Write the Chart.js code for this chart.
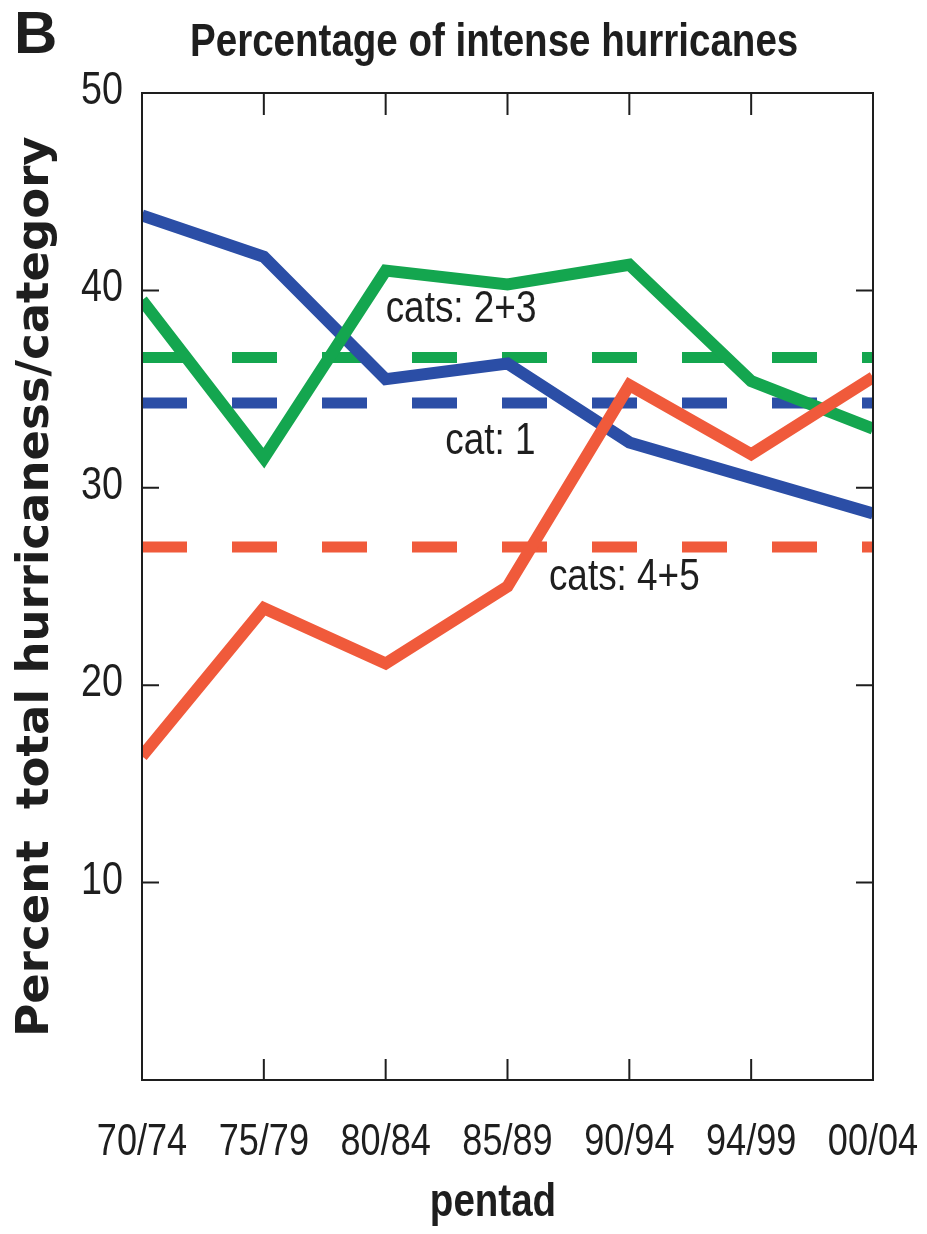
<!DOCTYPE html>
<html>
<head>
<meta charset="utf-8">
<script src="https://cdn.jsdelivr.net/npm/chart.js@4/dist/chart.umd.min.js"></script>
<style>
  html, body { margin: 0; padding: 0; background: #ffffff; }
  #wrap { width: 927px; height: 1234px; position: relative; }
</style>
</head>
<body>
<div id="wrap"><canvas id="chart" width="927" height="1234"></canvas></div>
<script>
// Pentads on the x axis
const pentads = ['70/74', '75/79', '80/84', '85/89', '90/94', '94/99', '00/04'];

// Percent of all hurricanes falling in each category group, per pentad
const cat1 = [43.8, 41.7, 35.5, 36.3, 32.3, 30.5, 28.7];
const cats23 = [39.5, 31.5, 41.0, 40.3, 41.3, 35.4, 33.0];
const cats45 = [16.4, 23.9, 21.1, 25.0, 35.2, 31.7, 35.6];

// Long-term averages (dashed reference lines)
const meanCat1 = 34.3;
const meanCats23 = 36.6;
const meanCats45 = 27.0;

// Y axis tick labels
const yTickValues = [10, 20, 30, 40, 50];

const BLUE = '#2b4ea6';
const GREEN = '#14a64f';
const RED = '#f05a3b';
const INK = '#1e1e1e';

const SANS = "'Liberation Sans', Arial, sans-serif";
const NARROW_X = 0.82; // horizontal squeeze giving a condensed face

// Category-group labels placed in data space: [x index, y value]
const seriesLabels = [
  { text: 'cats: 2+3', at: [2.0, 38.4] },
  { text: 'cat: 1', at: [2.49, 31.7] },
  { text: 'cats: 4+5', at: [3.34, 24.8] }
];

function flat(v) { return pentads.map(() => v); }

// Draw condensed text: squeeze horizontally around the anchor point
function narrowText(ctx, text, x, y, font, align) {
  ctx.save();
  ctx.translate(x, y);
  ctx.scale(NARROW_X, 1);
  ctx.font = font;
  ctx.textAlign = align;
  ctx.textBaseline = 'alphabetic';
  ctx.fillText(text, 0, 0);
  ctx.restore();
}

// Frame with inward-pointing ticks on all four sides, plus axis and panel text
const framePlugin = {
  id: 'frame',
  afterDatasetsDraw(chart) {
    const { ctx, chartArea: a, scales: { x, y } } = chart;
    ctx.save();
    ctx.strokeStyle = INK;
    ctx.lineWidth = 2;
    ctx.strokeRect(a.left, a.top, a.right - a.left, a.bottom - a.top);
    ctx.beginPath();
    for (let i = 1; i < pentads.length - 1; i++) {
      const px = x.getPixelForValue(i);
      ctx.moveTo(px, a.bottom); ctx.lineTo(px, a.bottom - 21);
      ctx.moveTo(px, a.top); ctx.lineTo(px, a.top + 22);
    }
    yTickValues.forEach(v => {
      if (v >= y.max || v <= y.min) return;
      const py = y.getPixelForValue(v);
      ctx.moveTo(a.left, py); ctx.lineTo(a.left + 17, py);
      ctx.moveTo(a.right, py); ctx.lineTo(a.right - 17, py);
    });
    ctx.stroke();
    ctx.fillStyle = INK;

    // tick labels
    yTickValues.forEach(v => {
      narrowText(ctx, String(v), a.left - 19, y.getPixelForValue(v) + 11, '46px ' + SANS, 'right');
    });
    pentads.forEach((p, i) => {
      narrowText(ctx, p, x.getPixelForValue(i), 1155, '44px ' + SANS, 'center');
    });

    // series group labels
    seriesLabels.forEach(l => {
      narrowText(ctx, l.text, x.getPixelForValue(l.at[0]), y.getPixelForValue(l.at[1]), '45px ' + SANS, 'left');
    });
    ctx.restore();
  },
  afterDraw(chart) {
    const { ctx } = chart;
    ctx.save();
    ctx.fillStyle = INK;
    ctx.textBaseline = 'alphabetic';
    // panel letter
    ctx.font = 'bold 60px ' + SANS;
    ctx.textAlign = 'left';
    ctx.fillText('B', 14, 53);
    // heading and x axis title
    narrowText(ctx, 'Percentage of intense hurricanes', 190, 56, 'bold 47px ' + SANS, 'left');
    narrowText(ctx, 'pentad', 493, 1216, 'bold 47px ' + SANS, 'center');
    ctx.restore();
  }
};

const solid = (label, data, color, order) => ({
  label, data, order,
  borderColor: color, backgroundColor: color,
  borderWidth: 12, pointRadius: 0, fill: false, tension: 0,
  borderJoinStyle: 'miter', borderCapStyle: 'butt', clip: 0
});
const dashed = (label, value, color, order) => ({
  label, data: flat(value), order,
  borderColor: color, backgroundColor: color,
  borderWidth: 11, borderDash: [45, 45], pointRadius: 0, fill: false,
  borderCapStyle: 'butt', clip: 0
});

new Chart(document.getElementById('chart'), {
  type: 'line',
  data: {
    labels: pentads,
    datasets: [
      solid('cats: 4+5', cats45, RED, 0),
      solid('cats: 2+3', cats23, GREEN, 1),
      solid('cat: 1', cat1, BLUE, 2),
      dashed('cats: 2+3 mean', meanCats23, GREEN, 3),
      dashed('cat: 1 mean', meanCat1, BLUE, 4),
      dashed('cats: 4+5 mean', meanCats45, RED, 5)
    ]
  },
  options: {
    responsive: false,
    animation: false,
    events: [],
    layout: { padding: { top: 93, right: 54, left: 0, bottom: 0 } },
    plugins: { legend: { display: false }, tooltip: { enabled: false }, title: { display: false } },
    scales: {
      x: {
        type: 'category',
        offset: false,
        grid: { display: false, drawTicks: false },
        border: { display: false },
        ticks: { display: false, autoSkip: false },
        afterFit(s) { s.height = 154; s.paddingLeft = 0; s.paddingRight = 0; }
      },
      y: {
        min: 0, max: 50,
        grid: { display: false, drawTicks: false },
        border: { display: false },
        afterBuildTicks(s) { s.ticks = yTickValues.map(v => ({ value: v })); },
        ticks: { display: false },
        title: {
          display: true,
          text: 'Percent  total hurricaness/category',
          color: INK,
          font: { family: "'DejaVu Sans', sans-serif", weight: 'bold', size: 45, lineHeight: 1.2 },
          padding: { top: 9, bottom: 0 }
        },
        afterFit(s) { s.width = 142; s.paddingTop = 0; s.paddingBottom = 0; }
      }
    }
  },
  plugins: [framePlugin]
});
</script>
</body>
</html>
